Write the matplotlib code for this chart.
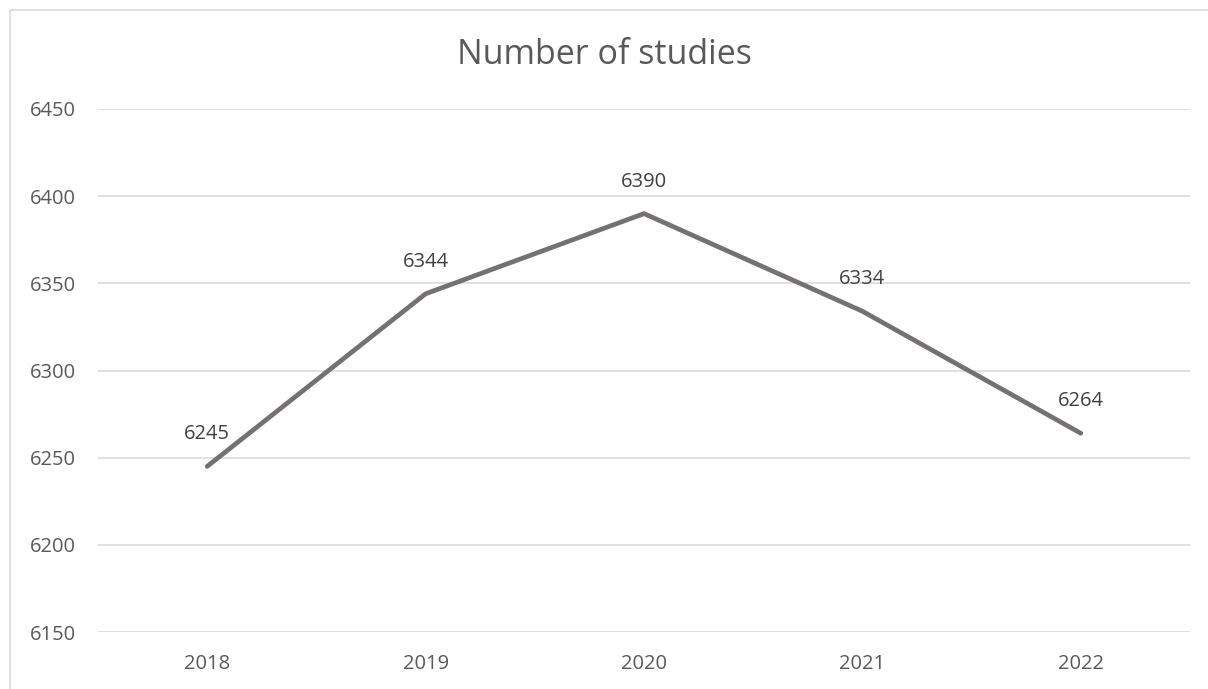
import matplotlib.pyplot as plt
from matplotlib.patches import Rectangle

years = ["2018", "2019", "2020", "2021", "2022"]
studies = [6245, 6344, 6390, 6334, 6264]
y_ticks = [6150, 6200, 6250, 6300, 6350, 6400, 6450]

plt.rcParams["font.family"] = ["Open Sans", "DejaVu Sans"]

W, H = 1208, 689
fig = plt.figure(figsize=(W / 100, H / 100), dpi=100)
ax = fig.add_axes([98 / W, 1 - 632 / H, (1190 - 98) / W, (632 - 109) / H])

x = list(range(len(years)))
ax.plot(x, studies, color="#767171", linewidth=3.4, solid_capstyle="round",
        solid_joinstyle="round", zorder=3)

for xi, v in zip(x, studies):
    ax.annotate(str(v), (xi, v), xytext=(0, 23), textcoords="offset points",
                ha="center", va="center", fontsize=14.5, color="#404040")

ax.set_xlim(-0.5, len(years) - 0.5)
ax.set_ylim(y_ticks[0], y_ticks[-1])
ax.set_xticks(x)
ax.set_xticklabels(years)
ax.set_yticks(y_ticks)
ax.tick_params(length=0, labelsize=14.5, labelcolor="#595959")
ax.tick_params(axis="y", pad=16)
ax.tick_params(axis="x", pad=16)
ax.grid(axis="y", color="#d9d9d9", linewidth=1.2)
ax.set_axisbelow(True)
for s in ax.spines.values():
    s.set_visible(False)

fig.text(0.5, 1 - 55 / H, "Number of studies", ha="center", va="center",
         fontsize=24.5, color="#595959")

fig.add_artist(Rectangle((10 / W, -0.1), 1.2, 1 - 10 / H + 0.1,
                         transform=fig.transFigure, fill=False,
                         edgecolor="#d9d9d9", linewidth=1.2))

fig.savefig("out.png", dpi=100)
